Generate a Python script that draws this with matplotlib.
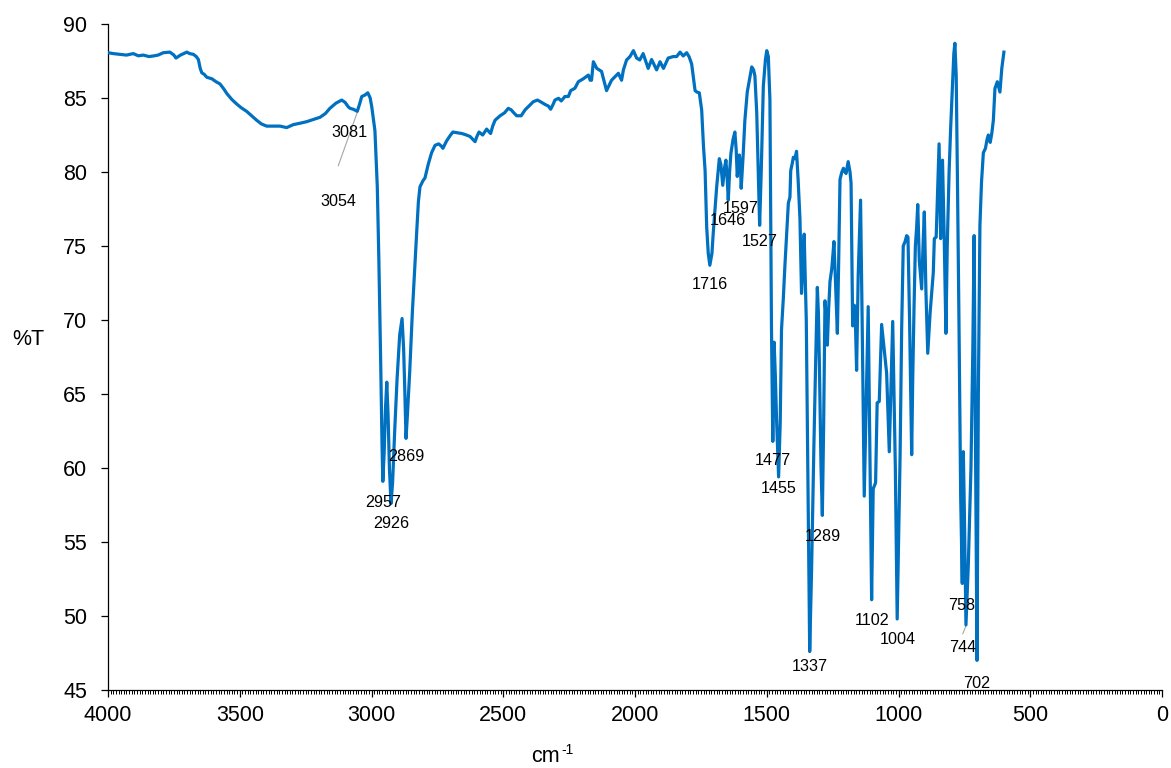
"""IR spectrum (%T vs wavenumber) with peak labels"""

import matplotlib
matplotlib.use("Agg")
import matplotlib.pyplot as plt
from matplotlib.ticker import MultipleLocator

plt.rcParams["font.family"] = ["Liberation Sans", "DejaVu Sans"]

# spectrum: wavenumber (cm-1) and %T
wavenumber = [
    4000, 3980, 3955, 3930, 3904, 3885, 3866, 3845, 3828, 3810, 3790, 3765, 3750, 3742, 3725,
    3701, 3690, 3676, 3665, 3657, 3650, 3644, 3635, 3625, 3615, 3606, 3590, 3575, 3560, 3549,
    3530, 3512, 3495, 3474, 3455, 3436, 3418, 3398, 3370, 3347, 3322, 3297, 3270, 3246, 3220,
    3195, 3175, 3158, 3135, 3113, 3100, 3088, 3081, 3069, 3054, 3045, 3037, 3025, 3014, 3005,
    2999, 2987, 2978, 2972, 2965, 2960, 2957, 2952, 2947, 2942, 2937, 2932, 2926, 2920, 2912,
    2903, 2893, 2884, 2878, 2874, 2869, 2864, 2855, 2845, 2836, 2828, 2822, 2816, 2805, 2797,
    2785, 2772, 2759, 2745, 2735, 2729, 2715, 2700, 2691, 2675, 2657, 2640, 2626, 2615, 2607,
    2600, 2592, 2578, 2563, 2548, 2540, 2531, 2512, 2495, 2481, 2470, 2460, 2449, 2432, 2417,
    2400, 2386, 2370, 2354, 2340, 2329, 2320, 2310, 2304, 2290, 2280, 2266, 2253, 2244, 2228,
    2215, 2196, 2177, 2170, 2165, 2158, 2145, 2127, 2108, 2089, 2063, 2051, 2044, 2032, 2019,
    2006, 1994, 1982, 1969, 1950, 1937, 1918, 1905, 1892, 1874, 1855, 1842, 1829, 1817, 1804,
    1795, 1785, 1772, 1765, 1756, 1747, 1740, 1734, 1728, 1722, 1716, 1708, 1703, 1690, 1680,
    1674, 1667, 1660, 1655, 1650, 1646, 1641, 1636, 1628, 1621, 1616, 1612, 1607, 1604, 1600,
    1597, 1590, 1583, 1574, 1565, 1557, 1550, 1545, 1538, 1532, 1527, 1521, 1513, 1505, 1500,
    1494, 1488, 1482, 1477, 1472, 1467, 1463, 1455, 1449, 1444, 1437, 1431, 1424, 1418, 1412,
    1409, 1403, 1399, 1393, 1387, 1381, 1374, 1368, 1363, 1358, 1350, 1337, 1330, 1321, 1314,
    1308, 1304, 1300, 1294, 1289, 1284, 1279, 1274, 1270, 1265, 1260, 1253, 1245, 1240, 1232,
    1227, 1222, 1215, 1209, 1203, 1199, 1191, 1184, 1180, 1174, 1168, 1165, 1159, 1153, 1144,
    1138, 1130, 1122, 1115, 1108, 1102, 1096, 1087, 1081, 1073, 1064, 1045, 1035, 1022, 1012,
    1005, 994, 988, 982, 975, 969, 964, 958, 950, 946, 941, 936, 931, 927, 921,
    912, 907, 902, 896, 889, 880, 868, 864, 857, 851, 846, 840, 833, 827, 820,
    815, 808, 802, 795, 790, 786, 781, 776, 770, 764, 758, 754, 750, 744, 735,
    725, 718, 713, 708, 702, 697, 691, 685, 678, 670, 664, 659, 652, 646, 640,
    634, 625, 615, 608, 600,
]
transmittance = [
    88.06, 88.0, 87.95, 87.9, 88.0, 87.85, 87.9, 87.8, 87.84, 87.9, 88.06, 88.1, 87.9, 87.7, 87.9,
    88.1, 88.0, 87.95, 87.8, 87.6, 87.0, 86.7, 86.6, 86.4, 86.35, 86.3, 86.1, 85.95, 85.6, 85.3,
    84.9, 84.6, 84.35, 84.1, 83.8, 83.5, 83.25, 83.1, 83.1, 83.1, 83.0, 83.2, 83.3, 83.4, 83.55,
    83.7, 83.95, 84.3, 84.65, 84.86, 84.7, 84.4, 84.3, 84.24, 84.1, 84.6, 85.1, 85.2, 85.35, 85.0,
    84.4, 82.8, 79.0, 74.0, 67.0, 61.5, 59.1, 61.0, 64.0, 65.8, 63.5, 60.0, 57.6, 59.0, 62.5,
    66.0, 69.0, 70.1, 68.0, 65.5, 62.0, 63.5, 66.5, 70.5, 73.5, 76.1, 78.0, 79.0, 79.4, 79.6,
    80.5, 81.3, 81.8, 81.9, 81.75, 81.6, 82.1, 82.5, 82.7, 82.65, 82.6, 82.5, 82.4, 82.2, 82.05,
    82.4, 82.7, 82.5, 82.9, 82.6, 83.1, 83.5, 83.8, 84.0, 84.3, 84.2, 84.0, 83.8, 83.8, 84.2,
    84.5, 84.75, 84.86, 84.7, 84.55, 84.46, 84.24, 84.6, 84.86, 84.98, 84.8, 85.1, 85.1, 85.5, 85.66,
    86.1, 86.3, 86.55, 86.2, 86.2, 87.45, 87.0, 86.8, 85.5, 86.2, 86.67, 86.2, 86.9, 87.57, 87.8,
    88.2, 87.7, 87.57, 88.0, 87.0, 87.6, 86.9, 87.45, 87.0, 87.7, 87.8, 87.8, 88.1, 87.84, 88.06,
    87.8, 87.3, 85.5, 85.4, 85.35, 84.2, 81.7, 80.1, 76.3, 74.5, 73.7, 74.5, 75.9, 79.0, 80.9,
    80.5, 79.1, 80.3, 80.8, 79.5, 78.1, 80.0, 81.26, 82.2, 82.7, 81.5, 79.7, 80.6, 81.15, 80.5,
    78.9, 81.0, 83.5, 85.4, 86.3, 87.1, 86.9, 86.5, 84.0, 80.0, 76.4, 80.0, 85.8, 87.6, 88.2,
    87.8, 84.9, 69.35, 61.8, 68.5, 66.0, 63.4, 59.4, 63.0, 69.35, 71.5, 73.7, 76.0, 77.9, 78.3,
    80.1, 80.6, 81.0, 80.9, 81.4, 79.5, 76.85, 71.8, 73.5, 75.8, 70.0, 47.6, 53.0, 61.6, 67.5,
    72.2, 70.5, 66.8, 60.0, 56.8, 63.0, 71.3, 70.0, 68.3, 70.8, 72.6, 73.5, 75.3, 73.0, 69.1,
    74.0, 79.5, 80.0, 80.25, 80.0, 79.9, 80.7, 80.0, 79.25, 69.6, 71.0, 70.9, 66.6, 73.0, 78.1,
    70.0, 58.1, 65.0, 70.9, 60.0, 51.1, 58.6, 59.0, 64.4, 64.5, 69.7, 66.4, 61.1, 69.9, 60.0,
    49.8, 60.8, 69.4, 75.0, 75.3, 75.7, 75.6, 70.0, 60.9, 66.0, 70.9, 75.0, 76.3, 77.8, 74.0,
    72.1, 75.0, 77.3, 72.0, 67.75, 70.5, 73.2, 75.5, 75.6, 79.0, 81.9, 75.5, 80.8, 76.0, 69.1,
    75.0, 80.0, 83.0, 86.0, 88.0, 88.7, 86.5, 79.0, 69.0, 58.0, 52.2, 61.1, 57.0, 49.4, 53.5,
    60.0, 68.0, 75.7, 62.0, 47.0, 65.0, 76.4, 79.3, 81.3, 81.6, 82.2, 82.5, 82.0, 82.6, 83.5,
    85.65, 86.1, 85.4, 87.0, 88.1,
]

# peak labels and where their text sits (wavenumber, %T)
peak_text = ["3081", "3054", "2957", "2926", "2869", "1716", "1646", "1597", "1527",
             "1477", "1455", "1337", "1289", "1102", "1004", "758", "744", "702"]
text_wn = [3082, 3126, 2956, 2926, 2869, 1716, 1646, 1597, 1527,
           1477, 1455, 1337, 1287, 1101, 1002, 759, 757, 702]
text_t = [82.7, 78.0, 57.7, 56.26, 60.76, 72.4, 76.7, 77.55, 75.3,
          60.5, 58.6, 46.6, 55.4, 49.7, 48.4, 50.7, 47.9, 45.47]

# leader lines for the two labels that were pulled away from their peak
leaders = [((3054, 84.03), (3126, 80.43)), ((744, 49.34), (756, 48.8))]

W, H = 1171, 768
fig = plt.figure(figsize=(W / 100, H / 100), dpi=100)
ax = fig.add_axes([108 / W, 1 - 690 / H, (1162 - 108) / W, (690 - 24) / H])

ax.plot(wavenumber, transmittance, color="#0070C0", linewidth=2.3,
        solid_joinstyle="round", zorder=3)

for (x0, y0), (x1, y1) in leaders:
    ax.plot([x0, x1], [y0, y1], color="#A6A6A6", linewidth=0.8, zorder=2)

for txt, x, y in zip(peak_text, text_wn, text_t):
    ax.text(x, y, txt, ha="center", va="center", fontsize=11.6, color="black", zorder=4)

ax.set_xlim(4000, 0)
ax.set_ylim(45, 90)
ax.xaxis.set_major_locator(MultipleLocator(500))
ax.xaxis.set_minor_locator(MultipleLocator(10))
ax.yaxis.set_major_locator(MultipleLocator(5))

for side in ("top", "right"):
    ax.spines[side].set_visible(False)
for side in ("left", "bottom"):
    ax.spines[side].set_linewidth(0.9)
    ax.spines[side].set_color("black")

ax.tick_params(axis="x", which="major", direction="out", length=5, width=0.9,
               labelsize=15.5, pad=6)
ax.tick_params(axis="x", which="minor", direction="out", length=3, width=0.7)
ax.tick_params(axis="y", which="major", direction="out", length=5, width=0.9,
               labelsize=15.5, pad=10)

fig.text(28 / W, 1 - 340 / H, "%T", ha="center", va="center", fontsize=15.5)
# axis unit: "cm" with a small raised "-1"
fig.text(560 / W, 1 - 757 / H, "cm", ha="right", va="center", fontsize=15.5)
fig.text(561 / W, 1 - 750 / H, "-1", ha="left", va="center", fontsize=10)

fig.savefig("out.png", dpi=100, facecolor="white")
plt.close(fig)
